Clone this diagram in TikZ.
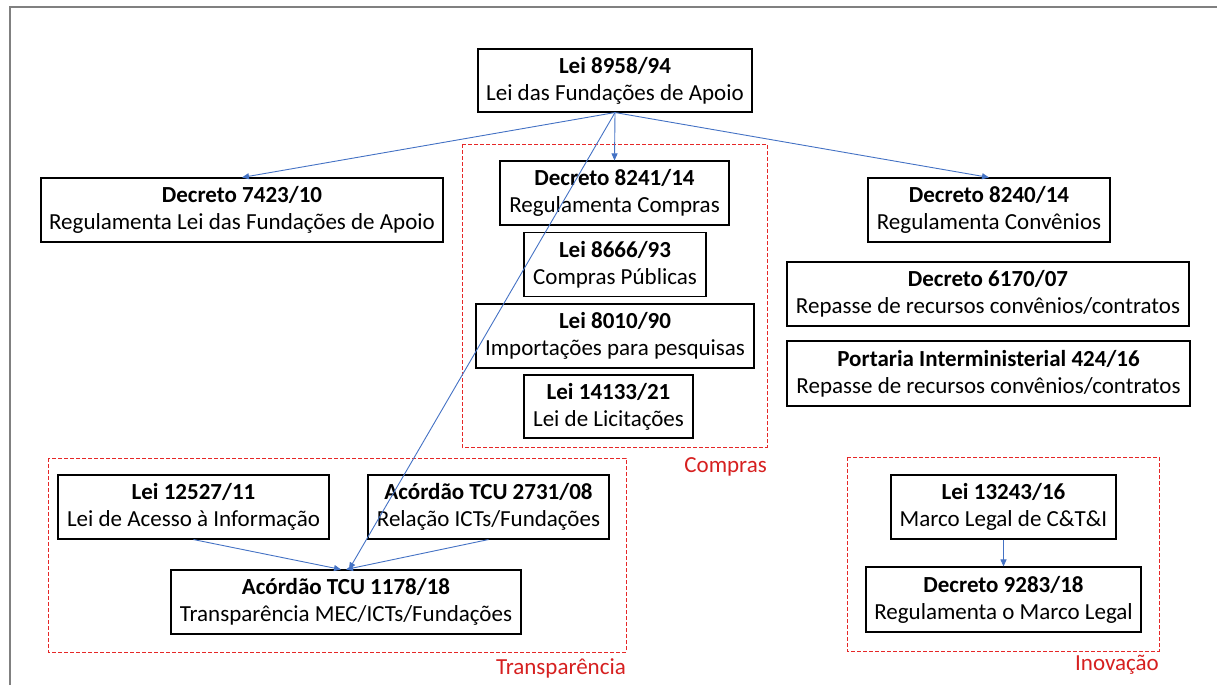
\documentclass[tikz,border=0pt]{standalone}
\usepackage{fontspec}
\setmainfont{Carlito}
\definecolor{ArrowBlue}{RGB}{68,114,196}
\definecolor{GroupRed}{RGB}{230,40,40}
\definecolor{LabelRed}{RGB}{214,32,32}
\definecolor{FrameGray}{RGB}{128,128,128}
\usetikzlibrary{arrows.meta}

\newcommand{\normativa}[2]{\textbf{#1}\\#2}

\begin{document}
\begin{tikzpicture}[x=1pt, y=-1pt,
  lawbox/.style={draw=black, line width=1.1pt, align=center, inner sep=0pt,
                 minimum height=64pt, font=\fontsize{23}{27}\selectfont},
  grupo/.style={draw=GroupRed, line width=1pt, dash pattern=on 4pt off 2pt},
  grupolabel/.style={text=LabelRed, anchor=east, inner sep=0pt,
                     font=\fontsize{23}{23}\selectfont},
  seta/.style={draw=ArrowBlue, line width=0.9pt,
               -{Triangle[length=7pt, width=6pt, fill=ArrowBlue]}}]

  \useasboundingbox (0,0) rectangle (1217,685);

  % Groups
  \draw[grupo] (462,144) rectangle (767,447);
  \draw[grupo] (48,458) rectangle (626,652);
  \draw[grupo] (847,457) rectangle (1159,651);

  \node[grupolabel] (lblcompras) at (767,467) {Compras};
  \node[grupolabel] (lbltransp)  at (626,668) {Transparência};
  \node[grupolabel] (lblinov)    at (1159,665) {Inovação};

  % Frame
  \draw[FrameGray, line width=2pt]
        (10,685) -- (10,7) -- (1217,7);

  % Top
  \node[lawbox, minimum width=274pt, minimum height=63pt] (lei8958) at (615,80.5)
        {\normativa{Lei 8958/94}{Lei das Fundações de Apoio}};

  % Second row
  \node[lawbox, minimum width=402pt] (dec7423) at (242,210)
        {\normativa{Decreto 7423/10}{Regulamenta Lei das Fundações de Apoio}};

  \node[lawbox, minimum width=242pt] (dec8240) at (989,210)
        {\normativa{Decreto 8240/14}{Regulamenta Convênios}};

  % Compras
  \node[lawbox, minimum width=229pt] (dec8241) at (614.5,193)
        {\normativa{Decreto 8241/14}{Regulamenta Compras}};

  \node[lawbox, minimum width=182pt] (lei8666) at (615,264.5)
        {\normativa{Lei 8666/93}{Compras Públicas}};

  \node[lawbox, minimum width=278pt] (lei8010) at (615,336)
        {\normativa{Lei 8010/90}{Importações para pesquisas}};

  \node[lawbox, minimum width=169pt, minimum height=63pt] (lei14133) at (608.5,406.5)
        {\normativa{Lei 14133/21}{Lei de Licitações}};

  % Convenios
  \node[lawbox, minimum width=402pt] (dec6170) at (988,294)
        {\normativa{Decreto 6170/07}{Repasse de recursos convênios/contratos}};

  \node[lawbox, minimum width=403pt, minimum height=65pt] (port424) at (988.5,373.5)
        {\normativa{Portaria Interministerial 424/16}{Repasse de recursos convênios/contratos}};

  % Transparencia
  \node[lawbox, minimum width=271pt] (lei12527) at (193.5,507)
        {\normativa{Lei 12527/11}{Lei de Acesso à Informação}};

  \node[lawbox, minimum width=241pt] (ac2731) at (488.5,507)
        {\normativa{Acórdão TCU 2731/08}{Relação ICTs/Fundações}};

  \node[lawbox, minimum width=350pt] (ac1178) at (346,602)
        {\normativa{Acórdão TCU 1178/18}{Transparência MEC/ICTs/Fundações}};

  % Inovacao
  \node[lawbox, minimum width=225pt] (lei13243) at (1003.5,507)
        {\normativa{Lei 13243/16}{Marco Legal de C\&T\&I}};

  \node[lawbox, minimum width=275pt, minimum height=65pt] (dec9283) at (1003.5,599.5)
        {\normativa{Decreto 9283/18}{Regulamenta o Marco Legal}};

  % Arrows
  \draw[seta] (lei8958.south) -- (dec7423.north);
  \draw[seta] (lei8958.south) -- (dec8241.north);
  \draw[seta] (lei8958.south) -- (dec8240.north);
  \draw[seta] (lei8958.south) -- ([xshift=3pt]ac1178.north);
  \draw[seta] (lei12527.south) -- ([xshift=-5pt]ac1178.north);
  \draw[seta] (ac2731.south) -- (ac1178.north);
  \draw[seta] (lei13243.south) -- (dec9283.north);

\end{tikzpicture}
\end{document}
